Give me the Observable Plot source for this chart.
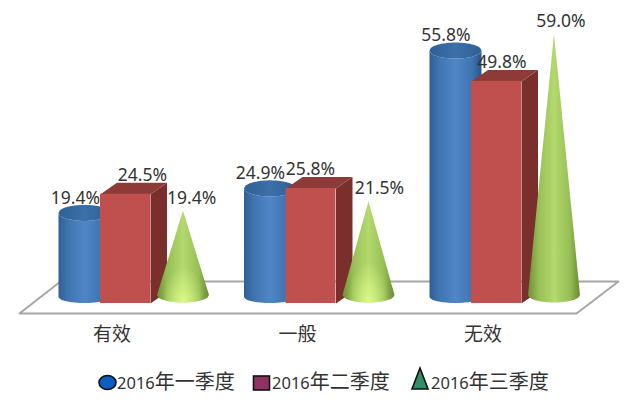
<!DOCTYPE html>
<html><head><meta charset="utf-8">
<script src="https://cdn.jsdelivr.net/npm/d3@7"></script>
<script src="https://cdn.jsdelivr.net/npm/@observablehq/plot@0.6"></script>
<style>
html,body{margin:0;padding:0;background:#fff}
#legend{position:relative;width:640px;height:45px;font-family:"Noto Sans","Noto Sans CJK SC",sans-serif;color:#333}
#legend svg{position:absolute;overflow:visible}
#legend .t{position:absolute;top:15px;line-height:24px;white-space:nowrap;font-size:20px}
#legend .t b{font-weight:400;font-size:16.5px}
</style></head><body>
<div id="chart"></div><div id="legend"></div>
<script>
const categories = ["有效", "一般", "无效"];
const seriesNames = ["2016年一季度", "2016年二季度", "2016年三季度"];
const q1 = [19.4, 24.9, 55.8];
const q2 = [24.5, 25.8, 49.8];
const q3 = [19.4, 21.5, 59.0];

// layout: units per pixel of the two scales
const ux = 1 / 185.5, uy = 1 / 4.46;
const W = 640, H = 355, mb = 40;
const xDomain = [-111.5 * ux, (W - 111.5) * ux];
const yDomain = [-(315 - 303) * uy, 303 * uy];
const rx = 26 * ux, fmt = v => v.toFixed(1) + "%";
const cylC = -27 * ux, boxL = -11.5 * ux, boxR = 38.5 * ux, coneC = 71.5 * ux;
const dpX = 16.5 * ux, dpY = 11.5 * uy;
const labelShift = [[-0.197, 0.164, 0.429], [-0.2, 0.07, 0.442], [-0.2, 0.102, 0.42]];
const steps = d3.range(-20, 21).map(d => d / 20);

const ell = (c, yc, ry, id) => steps.map(t => ({id, x: c + rx * t, lo: yc - ry * Math.sqrt(1 - t * t), hi: yc + ry * Math.sqrt(1 - t * t)}));

const cylBody = q1.flatMap((v, i) => steps.map(t => ({
  id: i, x: i + cylC + rx * t,
  hi: v + 0.8 - 1.8 * Math.sqrt(1 - t * t),
  lo: 1.35 - 1.35 * Math.sqrt(1 - t * t)
})));
const cylTop = q1.flatMap((v, i) => ell(i + cylC, v + 0.8, 1.8, i));

const boxes = q2.map((v, i) => ({x1: i + boxL, x2: i + boxR, v}));
const boxTop = q2.flatMap((v, i) => [[0, 0], [dpX, dpY], [boxR - boxL + dpX, dpY], [boxR - boxL, 0]]
  .map(([a, b]) => ({id: i, x: i + boxL + a, y: v + b})));
const boxSide = q2.flatMap((v, i) => [[0, v], [dpX, v + dpY], [dpX, dpY], [0, 0]]
  .map(([a, b]) => ({id: i, x: i + boxR + a, y: b})));

const coneBaseY = (303 - 295) * uy, coneRy = 7.5 * uy;
const cones = q3.flatMap((v, i) => steps.map(t => ({
  id: i, v, x: i + coneC + rx * t,
  hi: (v + 1.3) + (coneBaseY - (v + 1.3)) * Math.abs(t),
  lo: coneBaseY - coneRy * Math.sqrt(1 - t * t)
})));
const shortCones = cones.filter(d => d.v < 30);

const floor = [
  [19, 313], [60, 281], [618, 281], [576, 313], [19, 313]
].map(([a, b]) => ({x: (a - 111.5) * ux, y: (303 - b) * uy}));

const labels = [q1, q2, q3].flatMap((s, k) => s.map((v, i) => ({x: i + labelShift[i][k], v})));

const defs = () => d3.create("svg:defs").html(`
<linearGradient id="gCyl" x1="0" x2="1" y1="0" y2="0">
 <stop offset="0" stop-color="#2f5f94"/><stop offset=".18" stop-color="#3f74b0"/>
 <stop offset=".5" stop-color="#4f86c6"/><stop offset=".82" stop-color="#3f74b0"/><stop offset="1" stop-color="#2a5585"/>
</linearGradient>
<linearGradient id="gTop" x1="0" x2="1" y1="0" y2="0">
 <stop offset="0" stop-color="#2f6096"/><stop offset=".5" stop-color="#3c70a8"/><stop offset="1" stop-color="#2f6096"/>
</linearGradient>
<linearGradient id="gCone" x1="0" x2="1" y1="0" y2="0">
 <stop offset="0" stop-color="#6f8f37"/><stop offset=".2" stop-color="#97bf55"/>
 <stop offset=".5" stop-color="#b4d96e"/><stop offset=".8" stop-color="#97bf55"/><stop offset="1" stop-color="#6a8a33"/>
</linearGradient>
<radialGradient id="gGlow" cx=".5" cy="1" r=".4">
 <stop offset="0" stop-color="#e4ff8e" stop-opacity=".85"/><stop offset="1" stop-color="#e4ff8e" stop-opacity="0"/>
</radialGradient>`).node();

const chart = Plot.plot({
  width: W, height: H,
  marginTop: 0, marginRight: 0, marginLeft: 0, marginBottom: mb,
  style: {fontFamily: '"Noto Sans","Noto Sans CJK SC",sans-serif', background: "#fff", overflow: "visible"},
  x: {domain: xDomain, axis: null},
  y: {domain: yDomain, axis: null},
  marks: [
    defs,
    Plot.line(floor, {x: "x", y: "y", stroke: "#a6a6a6", strokeWidth: 2, fill: "#fff"}),
    Plot.areaY(cylBody, {x: "x", y1: "lo", y2: "hi", z: "id", fill: "url(#gCyl)"}),
    Plot.areaY(cylTop, {x: "x", y1: "lo", y2: "hi", z: "id", fill: "url(#gTop)"}),
    Plot.line(boxSide, {x: "x", y: "y", z: "id", fill: "#7a2f2d", stroke: "none"}),
    Plot.line(boxTop, {x: "x", y: "y", z: "id", fill: "#8e3a38", stroke: "none"}),
    Plot.rect(boxes, {x1: "x1", x2: "x2", y1: 0, y2: "v", fill: "#c0504d"}),
    Plot.areaY(cones, {x: "x", y1: "lo", y2: "hi", z: "id", fill: "url(#gCone)"}),
    Plot.areaY(shortCones, {x: "x", y1: "lo", y2: "hi", z: "id", fill: "url(#gGlow)"}),
    Plot.text(labels, {x: "x", y: "v", text: d => fmt(d.v), dy: -19, fontSize: 17.5, fill: "#333"}),
    Plot.axisX({ticks: [0, 1, 2], tickFormat: i => categories[i], tickSize: 0, tickPadding: 12, fontSize: 19, fill: "#333", label: null})
  ]
});
document.getElementById("chart").appendChild(chart);
chart.style.display = "block";

const leg = d3.select("#legend");
const swatch = [
  {x: 98, t: 117, s: `<ellipse cx="9.5" cy="27.5" rx="8.5" ry="7" fill="#0b5dbf" stroke="#111" stroke-width="1.6"/>`},
  {x: 252, t: 272, s: `<rect x="1.5" y="21" width="16" height="14" fill="#8e3264" stroke="#111" stroke-width="1.6"/>`},
  {x: 411, t: 431, s: `<path d="M9 13 L17 34 L1 34 Z" fill="#2f8f66" stroke="#111" stroke-width="1.6"/>`}
];
seriesNames.forEach((n, i) => {
  const sw = swatch[i];
  leg.append("svg").attr("width", 20).attr("height", 45).style("left", sw.x + "px").style("top", 0).html(sw.s);
  leg.append("div").attr("class", "t").style("left", sw.t + "px")
    .html(`<b>${n.slice(0, 4)}</b>${n.slice(4)}`);
});
</script>
</body></html>
